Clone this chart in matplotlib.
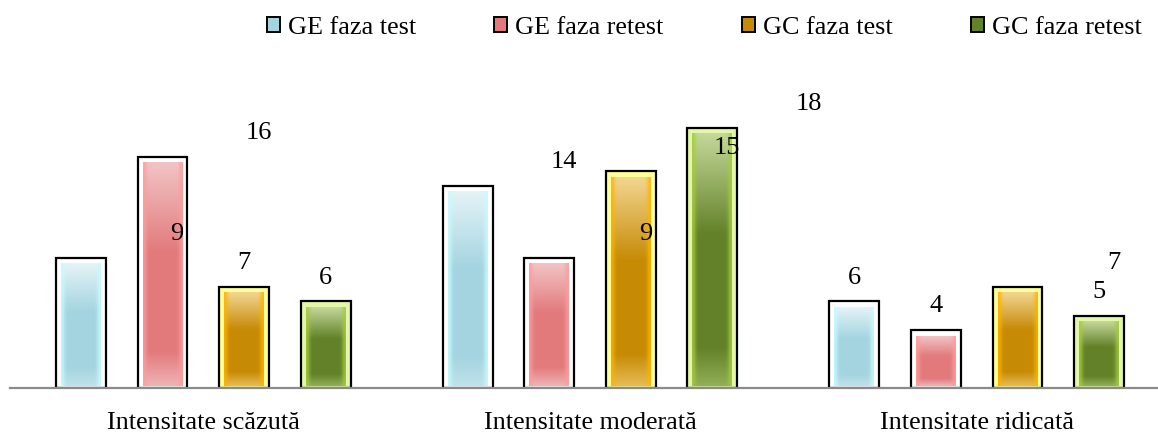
import matplotlib
matplotlib.use("Agg")
import matplotlib.pyplot as plt
import numpy as np
from matplotlib.colors import to_rgb
from matplotlib.patches import Rectangle

plt.rcParams['font.family'] = ['Liberation Serif', 'DejaVu Serif']

# data
categories = ['Intensitate scăzută', 'Intensitate moderată', 'Intensitate ridicată']
series = ['GE faza test', 'GE faza retest', 'GC faza test', 'GC faza retest']
ge_test = [9, 14, 6]
ge_retest = [16, 9, 4]
gc_test = [7, 15, 7]
gc_retest = [6, 18, 5]
values = [ge_test, ge_retest, gc_test, gc_retest]
# data labels in the original are drawn shifted one slot to the right for some bars
label_shift = [[1, 1, 0], [1, 1, 0], [0, 1, 1], [0, 1, 0]]

# colours: (light top, base, light bottom, side glow)
styles = [
    ('#e4f3f7', '#a3d4e0', '#bfe2ea', '#c8fbff'),
    ('#f2c4c5', '#e27a7c', '#eeb3b4', '#ff9c9c'),
    ('#f2d690', '#c68a05', '#e6bb55', '#ffb300'),
    ('#c4d89a', '#628128', '#8fae55', '#a6cc40'),
]
rims = ['white', 'white', '#ffff9a', '#e2f7a8']

fig = plt.figure(figsize=(11.58, 4.32), dpi=100)
ax = fig.add_axes([10 / 1158, 44 / 432, 1148 / 1158, 328 / 432])

x = np.arange(len(categories))
step = 0.211
width = 0.129
offsets = (np.arange(len(series)) - 1.5) * step
padx = 5 / 386.5
pady = 6 / 14.44


def gradient(top, base, bottom, glow, n=120, m=24):
    t = np.linspace(0, 1, n)[:, None]
    top, base, bottom, glow = (np.array(to_rgb(c)) for c in (top, base, bottom, glow))
    a = np.clip(t / 0.4, 0, 1)
    b = np.clip((t - 0.85) / 0.15, 0, 1)
    col = top * (1 - a) + base * a
    col = col * (1 - b) + bottom * b
    img = np.repeat(col[:, None, :], m, axis=1)
    s = np.linspace(0, 1, m)
    edge = np.exp(-((s / 0.08) ** 2)) + np.exp(-(((1 - s) / 0.08) ** 2))
    edge = edge[None, :, None]
    img = img * (1 - 0.8 * edge) + glow * 0.8 * edge
    return img


for i, vals in enumerate(values):
    pos = x + offsets[i]
    ax.bar(pos, vals, width=width, color=rims[i], edgecolor='black', linewidth=1.6, zorder=2)
    img = gradient(*styles[i])
    for j, v in enumerate(vals):
        ax.imshow(img, extent=[pos[j] - width / 2 + padx, pos[j] + width / 2 - padx,
                               pady * 0.3, v - pady],
                  aspect='auto', zorder=3, interpolation='bilinear')
        lx = pos[j] + label_shift[i][j] * 0.249
        ax.text(lx, v + 1.65, str(v), ha='center', va='center', fontsize=19, zorder=5)

ax.set_xlim(-0.5, 2.5 - 12 / 386.5)
ax.set_ylim(0, 328 / 14.44)
ax.set_xticks(x)
ax.set_xticklabels(categories, fontsize=18.8)
ax.tick_params(axis='x', length=0, pad=17)
ax.set_yticks([])
for s in ['top', 'right', 'left']:
    ax.spines[s].set_visible(False)
ax.spines['bottom'].set_color('#8a8a8a')
ax.spines['bottom'].set_linewidth(1.6)
ax.spines['bottom'].set_zorder(4)

handles = [Rectangle((0, 0), 1, 1, facecolor=styles[i][1], edgecolor='black', linewidth=1.4)
           for i in range(len(series))]
fig.legend(handles, series, loc='upper right', bbox_to_anchor=(1.006, 1.015), ncol=4,
           frameon=False, fontsize=18.8, handlelength=0.5, handleheight=0.5,
           handletextpad=0.3, columnspacing=3.0)

fig.savefig('out.png', dpi=100)
